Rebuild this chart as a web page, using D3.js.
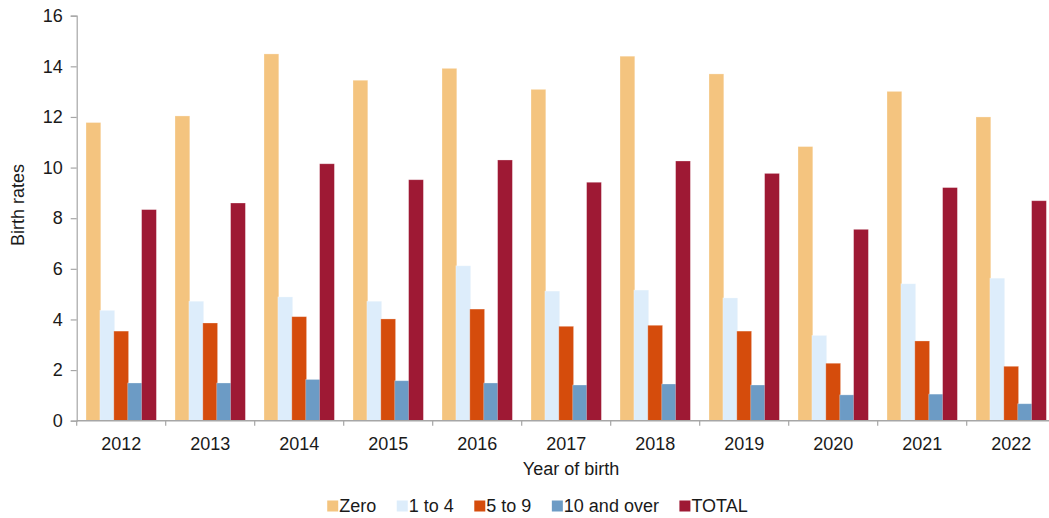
<!DOCTYPE html>
<html>
<head>
<meta charset="utf-8">
<script src="https://cdn.jsdelivr.net/npm/d3@7"></script>
<style>
  html, body { margin: 0; padding: 0; background: #fff; }
  svg { display: block; font-family: "Liberation Sans", Arial, sans-serif; }
</style>
</head>
<body>
<svg id="chart" width="1049" height="518"></svg>
<script>
// ---- Data ----
const years = ["2012","2013","2014","2015","2016","2017","2018","2019","2020","2021","2022"];
const seriesNames = ["Zero", "1 to 4", "5 to 9", "10 and over", "TOTAL"];
const seriesColors = ["#F4C47F", "#DDEDFB", "#D54C0C", "#6C9BC5", "#9E1934"];
const zero      = [11.78, 12.04, 14.49, 13.45, 13.92, 13.09, 14.40, 13.70, 10.83, 13.01, 12.00];
const oneToFour = [4.36, 4.72, 4.89, 4.72, 6.12, 5.12, 5.16, 4.85, 3.37, 5.41, 5.63];
const fiveToNine= [3.54, 3.86, 4.11, 4.02, 4.41, 3.73, 3.77, 3.54, 2.27, 3.15, 2.15];
const tenPlus   = [1.49, 1.49, 1.63, 1.58, 1.49, 1.41, 1.45, 1.41, 1.02, 1.05, 0.67];
const total     = [8.34, 8.60, 10.15, 9.52, 10.30, 9.42, 10.26, 9.77, 7.56, 9.21, 8.69];
const yTicks = [0, 2, 4, 6, 8, 10, 12, 14, 16];
const yTitle = "Birth rates";
const xTitle = "Year of birth";

const seriesValues = [zero, oneToFour, fiveToNine, tenPlus, total];

(function () {
// ---- Layout ----
const svg = d3.select("#chart");
const mLeft = 76.7, mTop = 15.7, mBottom = 420.7, bandW = 89;
const x = d3.scaleBand().domain(years).range([mLeft, mLeft + bandW * years.length]).padding(0);
const y = d3.scaleLinear().domain([0, 16]).range([mBottom, mTop]);
const inner = d3.scaleLinear().domain([0, 4]).range([9.3, 9.3 + 4 * 13.9]);
const barW = 14.8;
const textColor = "#1a1a1a";
const axisColor = "#a6a6a6";
const fontSize = 18;

// Bars
seriesValues.forEach((vals, si) => {
  svg.append("g").selectAll("rect")
    .data(vals.map((v, i) => ({ year: years[i], v })))
    .join("rect")
    .attr("x", d => x(d.year) + inner(si))
    .attr("y", d => y(d.v))
    .attr("width", barW)
    .attr("height", d => y(0) - y(d.v))
    .attr("fill", seriesColors[si])
    .attr("stroke", "#ffffff")
    .attr("stroke-opacity", 0.35)
    .attr("stroke-width", 0.8);
});

// Y axis
const yAxis = d3.axisLeft(y).tickValues(yTicks).tickSize(6).tickPadding(8).tickFormat(d3.format("d"));
const gy = svg.append("g").attr("transform", `translate(${mLeft},0)`).call(yAxis);
gy.select(".domain").attr("stroke", axisColor).attr("stroke-width", 1.2);
gy.selectAll(".tick line").attr("stroke", axisColor).attr("stroke-width", 1.2);
gy.selectAll(".tick text").attr("fill", textColor).attr("font-size", fontSize)
  .attr("font-family", "Liberation Sans, Arial, sans-serif");

// X axis
const gx = svg.append("g").attr("transform", `translate(0,${mBottom})`);
gx.append("line").attr("x1", mLeft).attr("x2", mLeft + bandW * years.length)
  .attr("y1", 0).attr("y2", 0).attr("stroke", axisColor).attr("stroke-width", 1.5);
gx.selectAll("line.tk").data(years.concat(["end"])).join("line").attr("class", "tk")
  .attr("x1", (d, i) => mLeft + bandW * i).attr("x2", (d, i) => mLeft + bandW * i)
  .attr("y1", 0).attr("y2", 5).attr("stroke", axisColor).attr("stroke-width", 1.2);
gx.selectAll("text").data(years).join("text")
  .attr("x", d => x(d) + x.bandwidth() / 2)
  .attr("y", 29)
  .attr("text-anchor", "middle")
  .attr("fill", textColor)
  .attr("font-size", fontSize)
  .text(d => d);

// Axis titles
svg.append("text")
  .attr("transform", `translate(24,205) rotate(-90)`)
  .attr("text-anchor", "middle")
  .attr("fill", textColor)
  .attr("font-size", fontSize)
  .text(yTitle);
svg.append("text")
  .attr("x", 571).attr("y", 475)
  .attr("text-anchor", "middle")
  .attr("fill", textColor)
  .attr("font-size", fontSize)
  .text(xTitle);

// Legend
const lg = svg.append("g");
const items = lg.selectAll("g").data(seriesNames).join("g");
items.append("rect").attr("width", 11).attr("height", 11).attr("y", -11)
  .attr("fill", (d, i) => seriesColors[i]);
items.append("text").attr("x", 12).attr("y", 0)
  .attr("fill", textColor).attr("font-size", fontSize).text(d => d);
let cx = 0;
const spacing = 20.5;
items.each(function () {
  const g = d3.select(this);
  g.attr("transform", `translate(${cx},0)`);
  const w = 12 + g.select("text").node().getComputedTextLength();
  cx += w + spacing;
});
const totalW = cx - spacing;
lg.attr("transform", `translate(${537.5 - totalW / 2},511.5)`);
})();
</script>
</body>
</html>
